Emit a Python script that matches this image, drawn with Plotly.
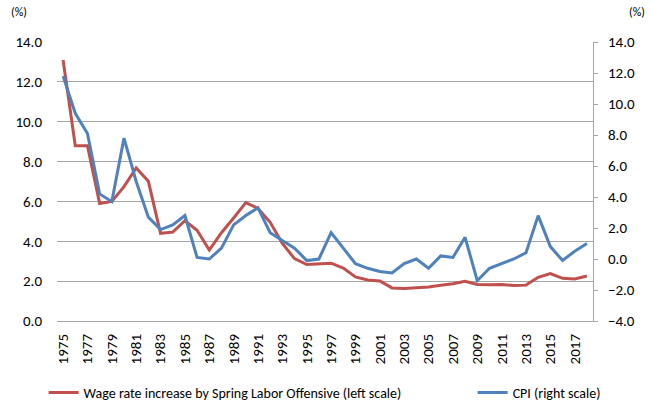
import plotly.graph_objects as go

# Years (category axis)
years = [str(y) for y in range(1975, 2019)]

# Wage rate increase by Spring Labor Offensive (left scale, %)
wage = [13.1, 8.8, 8.8, 5.9, 6.0, 6.74, 7.68, 7.01, 4.40, 4.46,
        5.03, 4.55, 3.56, 4.43, 5.17, 5.94, 5.65, 4.95, 3.89, 3.13,
        2.83, 2.86, 2.90, 2.66, 2.21, 2.06, 2.01, 1.66, 1.63, 1.67,
        1.71, 1.79, 1.87, 1.99, 1.83, 1.82, 1.83, 1.78, 1.80, 2.19,
        2.38, 2.14, 2.11, 2.26]

# CPI (right scale, %)
cpi = [11.8, 9.4, 8.1, 4.2, 3.7, 7.8, 5.0, 2.7, 1.9, 2.2,
       2.8, 0.1, 0.0, 0.7, 2.2, 2.8, 3.3, 1.7, 1.2, 0.7,
       -0.1, 0.0, 1.7, 0.7, -0.3, -0.6, -0.8, -0.9, -0.3, 0.0,
       -0.6, 0.2, 0.1, 1.4, -1.4, -0.6, -0.3, 0.0, 0.4, 2.8,
       0.8, -0.1, 0.5, 1.0]

xticks = years[::2]

FONT = "Carlito, Lato, sans-serif"
GRID = "#a6a6a6"

fig = go.Figure()
fig.add_trace(go.Scatter(
    x=years, y=wage, mode="lines", name="Wage rate increase by Spring Labor Offensive (left scale)",
    line=dict(color="#c0504d", width=3), yaxis="y", legend="legend"))
fig.add_trace(go.Scatter(
    x=years, y=cpi, mode="lines", name="CPI (right scale)",
    line=dict(color="#4f81bd", width=3), yaxis="y2", legend="legend2"))

leg = dict(orientation="h", yref="container", xref="container", y=0.032,
           yanchor="middle", xanchor="left", font=dict(size=14),
           bgcolor="rgba(0,0,0,0)")

fig.update_layout(
    width=651, height=406,
    margin=dict(l=57, r=58, t=42, b=85),
    paper_bgcolor="white", plot_bgcolor="white",
    font=dict(family=FONT, size=14, color="#000000"),
    showlegend=True,
    legend=dict(leg, x=0.067),
    legend2=dict(leg, x=0.726),
    xaxis=dict(type="category", tickvals=xticks, ticktext=xticks, tickangle=-90,
               showgrid=False, showline=True, linecolor=GRID, linewidth=1,
               ticks="", tickfont=dict(size=15), range=[-0.5, len(years) - 0.5],
               ticklabelstandoff=6, automargin=False),
    yaxis=dict(range=[0, 14], dtick=2, tickformat=".1f", showgrid=True,
               gridcolor=GRID, gridwidth=1, zeroline=False, showline=False,
               ticks="", tickfont=dict(size=15), ticklabelstandoff=14,
               automargin=False),
    yaxis2=dict(range=[-4, 14], dtick=2, tickformat=".1f", overlaying="y", side="right",
                showgrid=False, zeroline=False, showline=True, linecolor=GRID,
                ticks="outside", ticklen=4, tickcolor=GRID, tickfont=dict(size=15),
                ticklabelstandoff=7, automargin=False),
)

fig.add_annotation(text="(%)", xref="paper", yref="paper", x=-0.09, y=1.108,
                   xanchor="left", yanchor="middle", showarrow=False, font=dict(size=12))
fig.add_annotation(text="(%)", xref="paper", yref="paper", x=1.101, y=1.108,
                   xanchor="right", yanchor="middle", showarrow=False, font=dict(size=12))

# drop the page's default 8px body margin so the figure sits at the window corner
fig.write_html("out.html", config={"displayModeBar": False},
               post_script="document.body.style.margin='0';")
